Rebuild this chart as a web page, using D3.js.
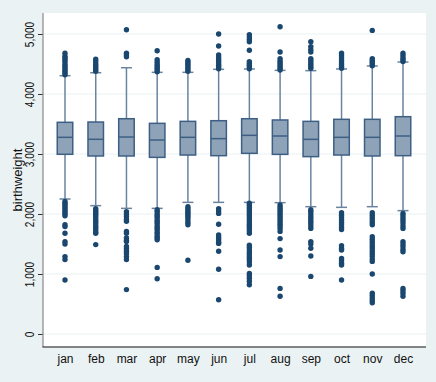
<!DOCTYPE html>
<html>
<head>
<meta charset="utf-8">
<script src="https://cdn.jsdelivr.net/npm/d3@7"></script>
<style>
  body { margin: 0; background: #eaf2f3; }
  svg { display: block; font-family: "Liberation Sans", Arial, sans-serif; }
</style>
</head>
<body>
<svg id="chart"></svg>
<script>
// Box statistics (grams)
var months = ["jan", "feb", "mar", "apr", "may", "jun", "jul", "aug", "sep", "oct", "nov", "dec"];
var q1 = [2995, 2967, 2967, 2944, 2983, 2972, 3011, 2994, 2956, 2983, 2967, 2972];
var medians = [3278, 3245, 3283, 3233, 3278, 3256, 3311, 3300, 3244, 3278, 3278, 3300];
var q3 = [3528, 3533, 3588, 3511, 3544, 3555, 3588, 3567, 3544, 3578, 3578, 3622];
var whiskerLow = [2250, 2139, 2094, 2094, 2194, 2194, 2194, 2189, 2122, 2111, 2122, 2056];
var whiskerHigh = [4305, 4355, 4438, 4361, 4361, 4411, 4417, 4394, 4389, 4417, 4467, 4533];
var yTicks = [0, 1000, 2000, 3000, 4000, 5000];

// Outside values, one list per month
var outliers = [
  [4320, 4350, 4380, 4410, 4440, 4470, 4500, 4540, 4570, 4600, 4630, 4680,
   2210, 2180, 2150, 2120, 2090, 2060, 2030, 2000, 1970, 1820, 1790, 1680, 1540, 1500, 1290, 1240, 900],
  [4380, 4410, 4440, 4470, 4500, 4540, 4580,
   2090, 2060, 2030, 2000, 1970, 1940, 1900, 1870, 1840, 1800, 1770, 1740, 1700, 1680, 1490],
  [4620, 4650, 4680, 5070,
   2040, 2000, 1960, 1910, 1880, 1710, 1680, 1600, 1560, 1540, 1460, 1420, 1380, 1340, 1290, 1240, 740],
  [4370, 4400, 4430, 4460, 4490, 4530, 4570, 4720,
   2070, 2040, 2000, 1970, 1940, 1900, 1870, 1840, 1800, 1770, 1740, 1700, 1670, 1630, 1600, 1570, 1110, 920],
  [4380, 4410, 4440, 4470, 4500, 4530, 4560,
   2120, 2090, 2060, 2030, 2000, 1970, 1940, 1900, 1860, 1820, 1230],
  [4420, 4450, 4480, 4510, 4540, 4570, 4610, 4650, 4800, 5000,
   2090, 2050, 2010, 1830, 1650, 1610, 1570, 1530, 1510, 1380, 1080, 570],
  [4420, 4450, 4480, 4510, 4540, 4730, 4870, 4910, 4950, 4990,
   2180, 2145, 2110, 2075, 2040, 2005, 1970, 1935, 1900, 1865, 1830, 1795, 1760, 1720, 1680,
   1480, 1440, 1400, 1360, 1320, 1280, 1240, 1200, 1150, 1010, 970, 930, 880, 820],
  [4400, 4430, 4460, 4490, 4520, 4550, 4590, 4700, 5120,
   2150, 2115, 2080, 2045, 2010, 1975, 1940, 1905, 1870, 1835, 1800, 1760, 1710, 1590, 1400, 1290, 760, 630],
  [4430, 4460, 4490, 4520, 4560, 4590, 4700, 4740, 4790, 4870,
   2070, 2040, 2000, 1960, 1920, 1880, 1840, 1800, 1760, 1540, 1500, 1430, 1300, 960],
  [4430, 4460, 4490, 4520, 4560, 4600, 4640, 4680,
   2020, 1980, 1940, 1900, 1860, 1820, 1780, 1740, 1470, 1430, 1400, 1260, 1220, 1180, 1150, 900],
  [4470, 4500, 4530, 4560, 4590, 5060,
   2020, 1980, 1940, 1900, 1860, 1820, 1620, 1580, 1540, 1500, 1460, 1420, 1380, 1340, 1300, 1250, 1210,
   1000, 680, 640, 600, 560, 520],
  [4540, 4570, 4600, 4640, 4680,
   2010, 1970, 1930, 1890, 1850, 1800, 1760, 1540, 1500, 1460, 1410, 1370, 760, 720, 680, 630]
];

var svgWidth = 436;
var svgHeight = 382;
var plot = { left: 43, right: 426, top: 13, bottom: 347 };

var svg = d3.select("#chart")
  .attr("width", svgWidth)
  .attr("height", svgHeight);

// outer region
svg.append("rect")
  .attr("width", svgWidth)
  .attr("height", svgHeight)
  .attr("fill", "#eaf2f3");

// plot region
svg.append("rect")
  .attr("x", plot.left)
  .attr("y", plot.top)
  .attr("width", plot.right - plot.left)
  .attr("height", plot.bottom - plot.top)
  .attr("fill", "#ffffff");

var xScale = d3.scalePoint()
  .domain(months)
  .range([65, 403]);

var yScale = d3.scaleLinear()
  .domain([0, 5000])
  .range([334, 34]);

// grid lines
svg.append("g")
  .selectAll("line")
  .data(yTicks)
  .enter()
  .append("line")
  .attr("x1", plot.left)
  .attr("x2", plot.right)
  .attr("y1", function (d) { return yScale(d); })
  .attr("y2", function (d) { return yScale(d); })
  .attr("stroke", "#eaf2f3")
  .attr("stroke-width", 1.2);

var boxes = months.map(function (m, i) {
  return { month: m, q1: q1[i], med: medians[i], q3: q3[i], lo: whiskerLow[i], hi: whiskerHigh[i] };
});

var boxWidth = 15.5;
var capWidth = 11;
var whiskerColor = "#6a84a0";
var boxStroke = "#3d5f84";

var g = svg.append("g").selectAll("g")
  .data(boxes)
  .enter()
  .append("g");

// whiskers
g.append("line")
  .attr("x1", function (d) { return xScale(d.month); })
  .attr("x2", function (d) { return xScale(d.month); })
  .attr("y1", function (d) { return yScale(d.q3); })
  .attr("y2", function (d) { return yScale(d.hi); })
  .attr("stroke", whiskerColor)
  .attr("stroke-width", 1.5);
g.append("line")
  .attr("x1", function (d) { return xScale(d.month); })
  .attr("x2", function (d) { return xScale(d.month); })
  .attr("y1", function (d) { return yScale(d.q1); })
  .attr("y2", function (d) { return yScale(d.lo); })
  .attr("stroke", whiskerColor)
  .attr("stroke-width", 1.5);

// caps
["hi", "lo"].forEach(function (key) {
  g.append("line")
    .attr("x1", function (d) { return xScale(d.month) - capWidth / 2; })
    .attr("x2", function (d) { return xScale(d.month) + capWidth / 2; })
    .attr("y1", function (d) { return yScale(d[key]); })
    .attr("y2", function (d) { return yScale(d[key]); })
    .attr("stroke", whiskerColor)
    .attr("stroke-width", 1.5);
});

// boxes
g.append("rect")
  .attr("x", function (d) { return xScale(d.month) - boxWidth / 2; })
  .attr("y", function (d) { return yScale(d.q3); })
  .attr("width", boxWidth)
  .attr("height", function (d) { return yScale(d.q1) - yScale(d.q3); })
  .attr("fill", "#8fa3b8")
  .attr("stroke", boxStroke)
  .attr("stroke-width", 1.5);

// medians
g.append("line")
  .attr("x1", function (d) { return xScale(d.month) - boxWidth / 2; })
  .attr("x2", function (d) { return xScale(d.month) + boxWidth / 2; })
  .attr("y1", function (d) { return yScale(d.med); })
  .attr("y2", function (d) { return yScale(d.med); })
  .attr("stroke", boxStroke)
  .attr("stroke-width", 1.5);

// outside values
var points = [];
months.forEach(function (m, i) {
  outliers[i].forEach(function (v) { points.push({ month: m, value: v }); });
});
svg.append("g")
  .selectAll("circle")
  .data(points)
  .enter()
  .append("circle")
  .attr("cx", function (d) { return xScale(d.month); })
  .attr("cy", function (d) { return yScale(d.value); })
  .attr("r", 2.7)
  .attr("fill", "#1a476f");

// y axis
var yAxis = svg.append("g")
  .attr("transform", "translate(" + plot.left + ",0)")
  .call(d3.axisLeft(yScale).tickValues(yTicks).tickFormat(d3.format(",")).tickSize(5).tickSizeOuter(0));
yAxis.select(".domain").remove();
yAxis.selectAll(".tick line").attr("stroke", "#333");
// labels are drawn taller than wide in the reference
var labelStretch = 1.2;
yAxis.selectAll(".tick text")
  .attr("transform", "rotate(-90) scale(0.92," + labelStretch + ")")
  .attr("x", 0)
  .attr("y", -9.5 / labelStretch)
  .attr("dy", "0")
  .attr("text-anchor", "middle")
  .attr("fill", "#111")
  .style("font-size", "11px")
  .style("font-family", "Liberation Sans, Arial, sans-serif");

svg.append("line")
  .attr("x1", plot.left).attr("x2", plot.left)
  .attr("y1", plot.top).attr("y2", plot.bottom)
  .attr("stroke", "#888")
  .attr("stroke-width", 1.2);

// x axis
var xAxis = svg.append("g")
  .attr("transform", "translate(0," + plot.bottom + ")")
  .call(d3.axisBottom(xScale).tickSize(0).tickSizeOuter(0));
xAxis.select(".domain").remove();
xAxis.selectAll(".tick text")
  .attr("y", 16)
  .attr("dy", "0")
  .attr("fill", "#111")
  .style("font-size", "12px")
  .style("font-family", "Liberation Sans, Arial, sans-serif");

svg.append("line")
  .attr("x1", plot.left - 0.5).attr("x2", plot.right)
  .attr("y1", plot.bottom).attr("y2", plot.bottom)
  .attr("stroke", "#111")
  .attr("stroke-width", 1.2);

// axis title
svg.append("text")
  .attr("transform", "translate(22,180) rotate(-90)")
  .attr("text-anchor", "middle")
  .attr("fill", "#111")
  .style("font-size", "13px")
  .text("birthweight");
</script>
</body>
</html>
